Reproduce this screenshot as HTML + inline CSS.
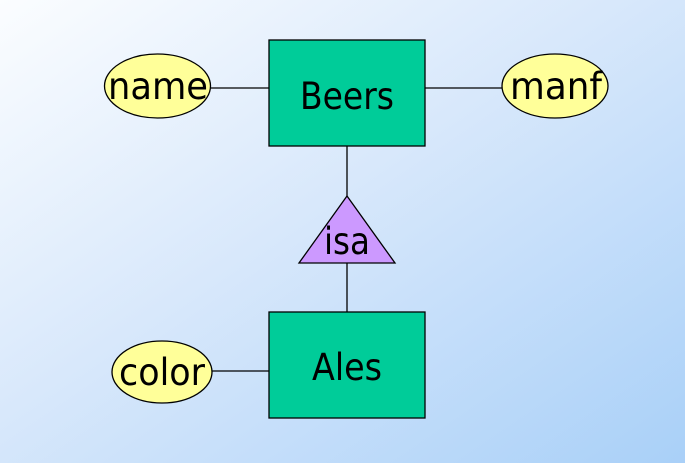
<!DOCTYPE html>
<html><head><style>html,body{margin:0;padding:0}body{width:685px;height:463px;overflow:hidden}</style></head>
<body>
<svg width="685" height="463" xmlns="http://www.w3.org/2000/svg">
<defs>
<linearGradient id="bg" x1="0" y1="0" x2="1" y2="1">
<stop offset="0" stop-color="#fbfdff"/>
<stop offset="0.45" stop-color="#d8e8fb"/>
<stop offset="1" stop-color="#a9d0f8"/>
</linearGradient>
</defs>
<rect width="685" height="463" fill="url(#bg)"/>
<g stroke="#000" stroke-width="1.3">
<line x1="211" y1="88" x2="269" y2="88"/>
<line x1="425" y1="88" x2="502" y2="88"/>
<line x1="347" y1="146" x2="347" y2="196"/>
<line x1="347" y1="263" x2="347" y2="312"/>
<line x1="212" y1="371" x2="269" y2="371"/>
<rect x="269" y="40" width="156" height="106" fill="#00cc99"/>
<rect x="269" y="312" width="156" height="106" fill="#00cc99"/>
<polygon points="347,196 299,263 395,263" fill="#cc99ff"/>
<ellipse cx="157.5" cy="86" rx="53" ry="32" fill="#ffff99"/>
<ellipse cx="555" cy="86" rx="53" ry="32" fill="#ffff99"/>
<ellipse cx="162" cy="372" rx="50" ry="31" fill="#ffff99"/>
</g>
<g font-family="'DejaVu Sans','Liberation Sans',sans-serif" font-size="37" text-anchor="middle" fill="#000">
<text x="158" y="99" textLength="100" lengthAdjust="spacingAndGlyphs">name</text>
<text x="556" y="99" textLength="92" lengthAdjust="spacingAndGlyphs">manf</text>
<text x="162" y="385" textLength="86" lengthAdjust="spacingAndGlyphs">color</text>
<text x="347" y="109" textLength="94" lengthAdjust="spacingAndGlyphs">Beers</text>
<text x="347" y="380" textLength="70" lengthAdjust="spacingAndGlyphs">Ales</text>
<text x="347" y="254" textLength="46" lengthAdjust="spacingAndGlyphs">isa</text>
</g>
</svg>
</body></html>
